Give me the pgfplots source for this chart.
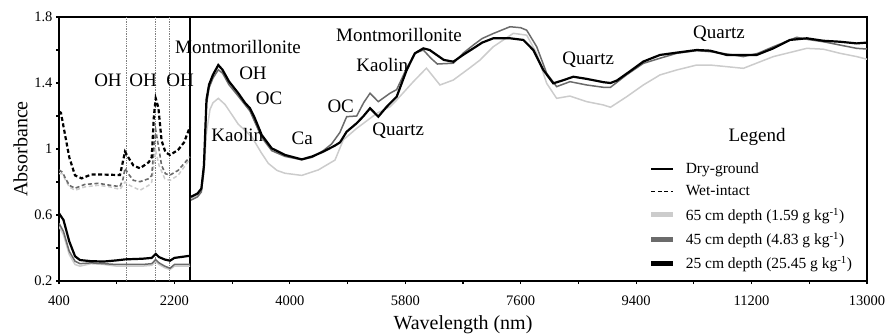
\documentclass[border=0pt]{standalone}
\usepackage{fontspec}
\setmainfont{Liberation Serif}
\usepackage{pgfplots}
\pgfplotsset{compat=1.18}
\definecolor{lg}{gray}{0.80}
\definecolor{dg}{gray}{0.42}
\begin{document}
\begin{tikzpicture}
\begin{axis}[
  at={(0,0)}, anchor=south west,
  scale only axis, width=808bp, height=264bp,
  xmin=400, xmax=13000, ymin=0.2, ymax=1.8,
  xtick={400,2200,4000,5800,7600,9400,11200,13000},
  ytick={0.2,0.6,1,1.4,1.8},
  minor x tick num=1, minor y tick num=1,
  tick align=outside, xtick pos=left, ytick pos=left,
  major tick length=3bp, minor tick length=3bp,
  axis line style={line width=1.6bp},
  every tick/.style={line width=1.2bp, black},
  /pgf/number format/1000 sep={},
  /pgf/number format/assume math mode=true,
  scaled x ticks=false,
  ticklabel style={font=\fontsize{14.5bp}{17bp}\selectfont},
  xticklabel style={yshift=-8bp},
  xlabel={Wavelength (nm)}, ylabel={Absorbance},
  label style={font=\fontsize{20bp}{24bp}\selectfont},
  xlabel style={yshift=-3bp},
  clip=true,
  legend style={draw=none, fill=none, at={(rel axis cs:0.726,0.463)}, anchor=north west,
    font=\fontsize{15.5bp}{18bp}\selectfont, row sep=6.5bp},
  legend cell align=left,
  legend image code/.code={\draw[#1] (0bp,0bp) -- (22bp,0bp); \path (30bp,0bp);},
]
% separator and OH lines
\addplot[black, line width=1.4bp, forget plot] coordinates {(2445,0.2) (2445,1.8)};
\addplot[gray, densely dotted, line width=0.7bp, forget plot] coordinates {(1445,0.2) (1445,1.8)};
\addplot[gray, densely dotted, line width=0.7bp, forget plot] coordinates {(1897,0.2) (1897,1.8)};
\addplot[gray, densely dotted, line width=0.7bp, forget plot] coordinates {(2115,0.2) (2115,1.8)};
% ---- VNIR wet-intact (dashed)
\addplot[lg, dash pattern=on 4bp off 2.5bp, line width=1.5bp, forget plot] coordinates {
(400,0.85)(450,0.85)(560,0.77)(650,0.75)(800,0.77)(1013,0.78)(1200,0.77)(1351,0.755)(1429,0.80)(1500,0.78)(1663,0.75)(1800,0.78)(1846,0.80)(1908,0.99)(1960,0.90)(2050,0.82)(2131,0.81)(2256,0.84)(2443,0.94)};
\addplot[dg, dash pattern=on 4bp off 2.5bp, line width=1.6bp, forget plot] coordinates {
(400,0.873)(450,0.86)(560,0.78)(650,0.762)(800,0.785)(1013,0.792)(1200,0.78)(1351,0.772)(1400,0.82)(1429,0.883)(1480,0.85)(1560,0.81)(1663,0.802)(1800,0.82)(1846,0.84)(1880,1.0)(1908,1.115)(1950,1.02)(2000,0.90)(2060,0.85)(2131,0.842)(2256,0.87)(2443,0.953)};
\addplot[black, dash pattern=on 4bp off 2.5bp, line width=2.2bp, forget plot] coordinates {
(400,1.226)(430,1.22)(560,0.95)(650,0.84)(754,0.822)(900,0.845)(1100,0.845)(1351,0.842)(1400,0.93)(1429,0.984)(1480,0.95)(1560,0.90)(1663,0.883)(1800,0.92)(1846,0.95)(1880,1.2)(1908,1.307)(1950,1.25)(2000,1.05)(2060,0.98)(2131,0.964)(2256,0.994)(2350,1.04)(2443,1.135)};
% ---- VNIR dry-ground (solid)
\addplot[lg, line width=1.5bp, forget plot] coordinates {
(400,0.53)(470,0.48)(560,0.36)(650,0.30)(727,0.29)(900,0.305)(1100,0.30)(1300,0.29)(1429,0.29)(1700,0.29)(1846,0.295)(1908,0.32)(1960,0.30)(2050,0.28)(2131,0.27)(2200,0.29)(2443,0.29)};
\addplot[dg, line width=1.5bp, forget plot] coordinates {
(400,0.55)(470,0.50)(560,0.38)(650,0.32)(727,0.305)(900,0.31)(1100,0.305)(1300,0.30)(1429,0.30)(1700,0.30)(1846,0.305)(1908,0.33)(1960,0.31)(2050,0.29)(2131,0.277)(2200,0.30)(2443,0.30)};
\addplot[black, line width=2.2bp, forget plot] coordinates {
(400,0.61)(470,0.57)(560,0.44)(650,0.35)(727,0.327)(900,0.32)(1100,0.318)(1300,0.325)(1429,0.331)(1700,0.335)(1846,0.34)(1908,0.364)(1960,0.345)(2050,0.33)(2131,0.323)(2200,0.34)(2443,0.353)};
% ---- MIR
\addplot[lg, line width=1.5bp, forget plot] coordinates {
(2458,0.70)(2560,0.72)(2620,0.75)(2660,0.85)(2700,1.10)(2755,1.24)(2801,1.28)(2884,1.307)(2989,1.27)(3196,1.15)(3405,1.075)(3550,0.98)(3664,0.913)(3800,0.87)(3924,0.853)(4185,0.84)(4443,0.873)(4704,0.933)(4833,1.055)(5042,1.125)(5354,1.216)(5562,1.256)(5666,1.297)(5925,1.408)(6130,1.49)(6341,1.388)(6549,1.418)(6800,1.49)(6965,1.539)(7173,1.62)(7484,1.701)(7693,1.69)(7849,1.58)(8005,1.398)(8160,1.307)(8368,1.321)(8629,1.287)(8888,1.267)(9000,1.253)(9253,1.317)(9512,1.388)(9772,1.449)(10033,1.479)(10345,1.509)(10552,1.509)(10813,1.499)(11072,1.489)(11539,1.56)(12060,1.61)(12318,1.605)(12579,1.58)(12839,1.56)(13000,1.544)};
\addplot[dg, line width=1.5bp, forget plot] coordinates {
(2458,0.69)(2560,0.71)(2620,0.74)(2660,0.88)(2700,1.27)(2740,1.37)(2801,1.43)(2884,1.48)(2950,1.46)(3050,1.39)(3196,1.32)(3378,1.23)(3561,1.07)(3717,0.99)(3924,0.955)(4185,0.935)(4350,0.95)(4521,0.99)(4650,1.03)(4780,1.10)(4886,1.196)(5042,1.20)(5150,1.28)(5250,1.338)(5379,1.287)(5562,1.338)(5666,1.36)(5822,1.49)(5950,1.58)(6081,1.60)(6200,1.55)(6300,1.515)(6549,1.52)(6700,1.58)(6861,1.63)(7000,1.67)(7173,1.70)(7433,1.741)(7600,1.735)(7693,1.72)(7849,1.62)(8005,1.459)(8160,1.378)(8368,1.408)(8629,1.388)(8888,1.374)(9000,1.374)(9253,1.45)(9512,1.519)(9772,1.55)(10033,1.58)(10345,1.596)(10552,1.59)(10813,1.576)(11072,1.56)(11300,1.58)(11539,1.62)(11904,1.677)(12060,1.665)(12318,1.65)(12579,1.63)(12839,1.61)(13000,1.606)};
\addplot[black, line width=2.2bp, forget plot] coordinates {
(2458,0.71)(2560,0.73)(2620,0.76)(2660,0.90)(2700,1.30)(2740,1.39)(2801,1.45)(2884,1.509)(2950,1.48)(3050,1.41)(3196,1.338)(3300,1.28)(3378,1.247)(3450,1.19)(3561,1.085)(3717,1.004)(3924,0.964)(4185,0.937)(4350,0.955)(4521,0.984)(4700,1.02)(4782,1.04)(4886,1.105)(5042,1.156)(5150,1.20)(5250,1.247)(5379,1.196)(5510,1.256)(5666,1.317)(5822,1.479)(5950,1.58)(6081,1.61)(6180,1.60)(6290,1.570)(6400,1.54)(6549,1.529)(6700,1.57)(6861,1.61)(7000,1.645)(7173,1.671)(7433,1.671)(7640,1.661)(7796,1.60)(7952,1.479)(8108,1.398)(8250,1.415)(8420,1.438)(8629,1.425)(8888,1.405)(9000,1.40)(9100,1.415)(9300,1.47)(9512,1.53)(9772,1.57)(10033,1.584)(10345,1.60)(10552,1.596)(10813,1.57)(11072,1.57)(11280,1.57)(11539,1.61)(11800,1.661)(12060,1.671)(12318,1.656)(12579,1.65)(12839,1.64)(13000,1.645)};
% ---- legend
\addlegendimage{black, line width=1.5bp}
\addlegendentry{Dry-ground}
\addlegendimage{black, dash pattern=on 4bp off 2.5bp, line width=1.5bp}
\addlegendentry{Wet-intact}
\addlegendimage{lg, line width=5bp}
\addlegendentry{65 cm depth (1.59 g kg\textsuperscript{-1})}
\addlegendimage{dg, line width=5bp}
\addlegendentry{45 cm depth (4.83 g kg\textsuperscript{-1})}
\addlegendimage{black, line width=5bp}
\addlegendentry{25 cm depth (25.45 g kg\textsuperscript{-1})}
% ---- annotations
\begin{scope}[every node/.style={font=\fontsize{19bp}{22bp}\selectfont, inner sep=0pt}]
\node at (axis cs:1164,1.418) {OH};
\node at (axis cs:1710,1.418) {OH};
\node at (axis cs:2287,1.418) {OH};
\node at (axis cs:3191,1.62) {Montmorillonite};
\node at (axis cs:3425,1.459) {OH};
\node at (axis cs:3675,1.307) {OC};
\node at (axis cs:3180,1.085) {Kaolin};
\node at (axis cs:4194,1.065) {Ca};
\node at (axis cs:4793,1.261) {OC};
\node at (axis cs:5442,1.509) {Kaolin};
\node at (axis cs:5691,1.109) {Quartz};
\node at (axis cs:5702,1.691) {Montmorillonite};
\node at (axis cs:8654,1.539) {Quartz};
\node at (axis cs:10692,1.701) {Quartz};
\node at (axis cs:11285,1.073) {Legend};
\end{scope}
\end{axis}
\pgfresetboundingbox
\path (-59bp,-54bp) rectangle (836bp,281bp);
\end{tikzpicture}
\end{document}
